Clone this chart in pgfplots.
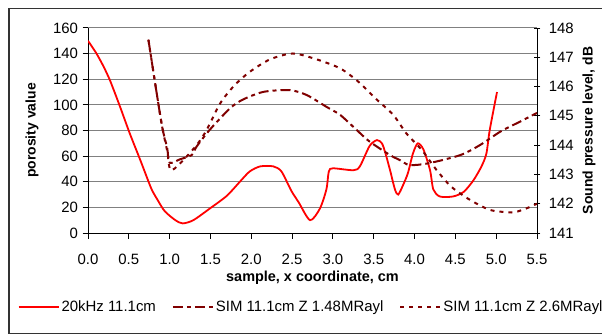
\documentclass[border=0pt]{standalone}
\usepackage{fontspec}
\setmainfont{Liberation Sans}
\usepackage{pgfplots}
\pgfplotsset{compat=1.18}
\definecolor{simred}{HTML}{800000}
\definecolor{gridgray}{HTML}{808080}
\begin{document}
\begin{tikzpicture}[x=1bp,y=1bp]
\useasboundingbox (0,0) rectangle (602,334);
\draw[line width=1.2bp, black!80] (9,0.8) rectangle (612,325.8);
\begin{axis}[
  at={(88bp,101bp)}, anchor=south west,
  scale only axis, width=449bp, height=205bp,
  xmin=0, xmax=5.5, ymin=0, ymax=160,
  axis x line*=bottom, axis y line*=left,
  xtick={0,0.5,1,1.5,2,2.5,3,3.5,4,4.5,5,5.5},
  ytick={0,20,40,60,80,100,120,140,160},
  xticklabel style={yshift=-12bp, /pgf/number format/.cd, fixed, fixed zerofill, precision=1},
  yticklabel style={xshift=-1bp},
  /pgf/number format/assume math mode=true,
  ymajorgrids, grid style={gridgray, line width=1bp},
  tick align=outside, major tick length=5.5bp,
  tick style={black, line width=1bp},
  axis line style={black, line width=1bp},
  tick label style={font=\fontsize{15}{17}\selectfont},
  xlabel={sample, x coordinate, cm},
  ylabel={porosity value},
  xlabel style={font=\bfseries\fontsize{14.5}{16}\selectfont, at={(axis description cs:0.5,-0.22)}, anchor=center},
  ylabel style={font=\bfseries\fontsize{14}{16}\selectfont, at={(axis description cs:-0.1247,0.5)}, anchor=center},
]
\addplot[red, line width=1.8bp, smooth, tension=0.45] coordinates {
(0.00,150) (0.10,140.5) (0.19,130) (0.27,119) (0.39,99) (0.51,78) (0.64,57)
(0.70,47) (0.78,34) (0.86,25) (0.94,17) (1.07,10) (1.16,7.5) (1.29,10)
(1.49,19) (1.70,29) (1.86,40) (1.98,48) (2.11,52) (2.27,52) (2.37,48)
(2.49,33) (2.58,24) (2.72,10) (2.84,19) (2.92,34) (2.95,48) (3.00,50.5)
(3.25,49) (3.33,52) (3.45,68) (3.54,72.5) (3.60,70) (3.64,63) (3.70,49)
(3.76,34) (3.80,30) (3.86,37.5) (3.92,47) (3.98,62) (4.04,70) (4.11,65)
(4.19,49) (4.23,34) (4.31,28.5) (4.47,28.5) (4.60,32) (4.72,41) (4.82,52)
(4.88,62) (4.92,80) (5.01,110)
};
\end{axis}
\begin{axis}[
  at={(88bp,101bp)}, anchor=south west,
  scale only axis, width=449bp, height=205bp,
  xmin=0, xmax=5.5, ymin=141, ymax=148,
  axis x line=none, axis y line*=right,
  ytick={141,142,143,144,145,146,147,148},
  yticklabel style={xshift=5bp},
  /pgf/number format/assume math mode=true,
  tick align=center, major tick length=6.5bp,
  tick style={black, line width=1bp},
  axis line style={black, line width=1bp},
  tick label style={font=\fontsize{15}{17}\selectfont},
  ylabel={Sound pressure level, dB},
  ylabel style={font=\bfseries\fontsize{14}{16}\selectfont, at={(axis description cs:1.116,0.5)}, anchor=center},
  legend image code/.code={\draw[#1] (0bp,0bp) -- (40bp,0bp);},
  legend style={at={(axis description cs:0.497,-0.361)}, anchor=center, draw=none, fill=none,
    font=\fontsize{15}{17}\selectfont, legend columns=3,
    /tikz/every even column/.append style={column sep=14bp}},
  legend cell align=left,
]
\addlegendimage{red, line width=1.8bp}
\addlegendentry{20kHz 11.1cm}
\addplot[simred, line width=2bp, dash pattern=on 10bp off 4bp on 4bp off 4bp, smooth, tension=0.45] coordinates {
(0.74,147.6) (0.84,145.8) (0.91,144.6) (0.97,143.9) (1.00,143.4) (1.13,143.52)
(1.27,143.66) (1.33,143.95) (1.49,144.52) (1.74,145.26) (1.90,145.56) (2.15,145.82)
(2.47,145.88) (2.68,145.71) (2.92,145.31) (3.09,145.03) (3.29,144.52) (3.45,144.12)
(3.70,143.66) (3.82,143.49) (3.94,143.32) (4.17,143.38) (4.56,143.66) (4.80,144.0)
(5.05,144.46) (5.29,144.8) (5.50,145.1)
};
\addlegendentry{SIM 11.1cm Z 1.48MRayl}
\addplot[simred, line width=2bp, dash pattern=on 4bp off 5bp, smooth, tension=0.45] coordinates {
(0.74,147.6) (0.84,145.8) (0.91,144.6) (0.97,143.8) (1.01,143.15) (1.13,143.38)
(1.33,144.0) (1.45,144.5) (1.62,145.43) (1.79,146.03) (1.98,146.5) (2.23,146.93)
(2.51,147.13) (2.80,146.93) (3.09,146.62) (3.31,146.17) (3.52,145.6) (3.74,145.03)
(3.90,144.4) (4.09,143.83) (4.27,143.15) (4.45,142.58) (4.68,142.13) (4.92,141.79)
(5.13,141.71) (5.23,141.71) (5.37,141.84) (5.50,142.0)
};
\addlegendentry{SIM 11.1cm Z 2.6MRayl}
\end{axis}
\end{tikzpicture}
\end{document}
